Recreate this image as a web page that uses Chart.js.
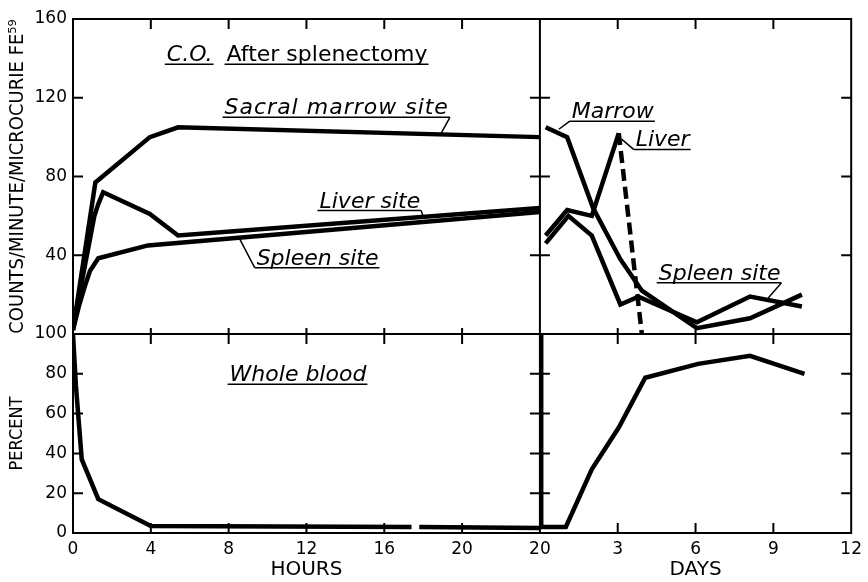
<!DOCTYPE html>
<html>
<head>
<meta charset="utf-8">
<script src="https://cdn.jsdelivr.net/npm/chart.js@4.4.0/dist/chart.umd.min.js"></script>
<style>
    html, body { margin: 0; padding: 0; background: #fff; }
    #wrap { position: relative; width: 868px; height: 582px; }
</style>
</head>
<body>
<div id="wrap"><canvas id="ironChart"></canvas></div>
<script>
// top left: counts over the first hours
const marrowHours = [0, 1.15, 3.95, 5.4, 24];
const marrowCounts = [2, 77, 100, 105, 100];
const liverHours = [0, 1.1, 1.3, 1.55, 3.95, 5.4, 24];
const liverCounts = [3, 60, 66, 72, 61, 50, 64];
const spleenHours = [0, 0.3, 0.6, 0.87, 1.3, 3.85, 24];
const spleenCounts = [2, 14, 24, 32, 38.5, 45, 62];

// top right: counts over days
const marrowDays = [0.22, 1.05, 2.05, 3.1, 3.93, 6.05, 8.1, 10.1];
const marrowCountsD = [105, 100, 64, 38, 22, 3, 8, 20];
const liverDays = [0.22, 1.05, 2.0, 3.04];
const liverCountsD = [50, 63, 60, 102];
const liverDropDays = [3.04, 3.93];
const liverDropCounts = [102, 0];
const spleenDays = [0.22, 1.1, 2.0, 3.1, 3.8, 6.05, 8.1, 10.1];
const spleenCountsD = [46, 60, 50, 15, 19, 6, 19, 14];

// bottom: whole blood percent
const bloodHours = [0, 0.15, 0.45, 1.3, 4, 17.4, 17.55, 17.8, 24];
const bloodPctH = [100, 74, 37, 17, 3.5, 3, null, 3, 2.5];
const bloodDays = [0.05, 0.05, 1.0, 2.0, 3.04, 4.06, 6.1, 8.1, 10.2];
const bloodPctD = [100, 3, 3, 32, 53, 78, 85, 89, 80];

// tick labels
const hourTicks = ["0", "4", "8", "12", "16", "20", ""];
const dayTicks = ["20", "3", "6", "9", "12"];
const countTicks = ["", "40", "80", "120", "160"];
const pctTicks = ["0", "20", "40", "60", "80", "100"];

const FONT = "'DejaVu Sans', 'Liberation Sans', sans-serif";
const NARROW = "'DejaVu Sans Condensed', 'Liberation Sans Narrow', 'Liberation Sans', sans-serif";

function pts(xs, ys) {
    return xs.map((x, i) => ({ x: x, y: ys[i] }));
}

function line(xs, ys, xAxis, yAxis, extra) {
    return Object.assign({
        data: pts(xs, ys),
        xAxisID: xAxis,
        yAxisID: yAxis,
        showLine: true,
        borderColor: "#000",
        borderWidth: 4.5,
        pointRadius: 0,
        fill: false,
        spanGaps: false,
    }, extra || {});
}

// labels drawn inside the plot, placed in data units
const notes = [
    { xs: "xh", ys: "yc", at: [4.82, 138.6], parts: [{ t: "C.O.", it: true, u: true }, { t: "  " }, { t: "After splenectomy", u: true }] },
    { xs: "xh", ys: "yc", at: [7.79, 111.6], spacing: 1, parts: [{ t: "Sacral marrow site", it: true, u: true }], lead: { side: "end", to: [18.9, 101.5] } },
    { xs: "xh", ys: "yc", at: [12.67, 64.2], parts: [{ t: "Liver site", it: true, u: true }], lead: { side: "end", to: [18.0, 59.6] } },
    { xs: "xh", ys: "yc", at: [9.44, 35.2], parts: [{ t: "Spleen site", it: true, u: true }], lead: { side: "start", to: [8.5, 49.6] } },
    { xs: "xd", ys: "yc", at: [1.23, 109.6], parts: [{ t: "Marrow", it: true, u: true }], lead: { side: "start", to: [0.73, 104] } },
    { xs: "xd", ys: "yc", at: [3.69, 95.3], parts: [{ t: "Liver", it: true, u: true }], lead: { side: "start", to: [3.15, 99] } },
    { xs: "xd", ys: "yc", at: [4.58, 27.5], parts: [{ t: "Spleen site", it: true, u: true }], lead: { side: "end", to: [8.8, 18.3] } },
    { xs: "xh", ys: "yp", at: [8.05, 76.3], parts: [{ t: "Whole blood", it: true, u: true }] },
];

const framePlugin = {
    id: "frame",
    beforeDatasetsDraw(chart) {
        const ctx = chart.ctx;
        const a = chart.chartArea;
        const s = chart.scales;
        const midX = s.xd.left;
        const midY = s.yc.bottom;
        const len = 10;
        ctx.save();
        ctx.strokeStyle = "#000";
        ctx.lineWidth = 2;
        ctx.strokeRect(a.left, a.top, a.width, a.height);
        ctx.beginPath();
        ctx.moveTo(midX, a.top); ctx.lineTo(midX, a.bottom);
        ctx.moveTo(a.left, midY); ctx.lineTo(a.right, midY);
        ["xh", "xd"].forEach((id) => {
            const sc = s[id];
            sc.ticks.forEach((t) => {
                if (t.value <= sc.min || t.value >= sc.max) return;
                const x = sc.getPixelForValue(t.value);
                ctx.moveTo(x, a.top); ctx.lineTo(x, a.top + len);
                ctx.moveTo(x, a.bottom); ctx.lineTo(x, a.bottom - len);
                ctx.moveTo(x, midY - 6); ctx.lineTo(x, midY + len);
            });
        });
        ["yc", "yp"].forEach((id) => {
            const sc = s[id];
            sc.ticks.forEach((t) => {
                if (t.value <= sc.min || t.value >= sc.max) return;
                const y = sc.getPixelForValue(t.value);
                ctx.moveTo(a.left, y); ctx.lineTo(a.left + len, y);
                ctx.moveTo(a.right, y); ctx.lineTo(a.right - len, y);
                ctx.moveTo(midX - len, y); ctx.lineTo(midX + len, y);
            });
        });
        ctx.stroke();
        ctx.restore();
    },
    afterDatasetsDraw(chart) {
        const ctx = chart.ctx;
        ctx.save();
        ctx.fillStyle = "#000";
        ctx.strokeStyle = "#000";
        ctx.textBaseline = "alphabetic";
        notes.forEach((n) => {
            const sx = chart.scales[n.xs];
            const sy = chart.scales[n.ys];
            let x = sx.getPixelForValue(n.at[0]);
            const y = sy.getPixelForValue(n.at[1]);
            const x0 = x;
            ctx.letterSpacing = (n.spacing || 0) + "px";
            ctx.lineWidth = 1.5;
            ctx.beginPath();
            n.parts.forEach((p) => {
                ctx.font = (p.it ? "italic " : "") + "22px " + FONT;
                ctx.fillText(p.t, x, y);
                const w = ctx.measureText(p.t).width;
                if (p.u) {
                    ctx.moveTo(x - 2, y + 3);
                    ctx.lineTo(x + w + 1, y + 3);
                }
                x += w;
            });
            if (n.lead) {
                const ux = n.lead.side === "end" ? x + 1 : x0 - 2;
                ctx.moveTo(ux, y + 3);
                ctx.lineTo(sx.getPixelForValue(n.lead.to[0]), sy.getPixelForValue(n.lead.to[1]));
            }
            ctx.stroke();
        });
        ctx.restore();
    },
};

const tickFont = { family: FONT, size: 17 };

var ironChart = new Chart(document.getElementById("ironChart"), {
    type: "scatter",
    data: {
        datasets: [
            line(marrowHours, marrowCounts, "xh", "yc"),
            line(liverHours, liverCounts, "xh", "yc"),
            line(spleenHours, spleenCounts, "xh", "yc"),
            line(marrowDays, marrowCountsD, "xd", "yc"),
            line(liverDays, liverCountsD, "xd", "yc"),
            line(liverDropDays, liverDropCounts, "xd", "yc", { borderDash: [12, 6] }),
            line(spleenDays, spleenCountsD, "xd", "yc"),
            line(bloodHours, bloodPctH, "xh", "yp"),
            line(bloodDays, bloodPctD, "xd", "yp"),
        ],
    },
    options: {
        responsive: true,
        maintainAspectRatio: false,
        animation: false,
        events: [],
        layout: { padding: { left: 0, top: 19, right: 15, bottom: 0 } },
        plugins: { legend: { display: false }, tooltip: { enabled: false } },
        scales: {
            xh: {
                type: "linear", axis: "x", position: "bottom",
                stack: "xs", stackWeight: 468, weight: 0,
                min: 0, max: 24,
                grid: { display: false, drawTicks: false },
                border: { display: false },
                ticks: {
                    stepSize: 4, autoSkip: false, maxRotation: 0, padding: 6,
                    color: "#000", font: tickFont,
                    callback: (v, i) => hourTicks[i],
                },
                title: { display: true, text: "HOURS", color: "#000", font: { family: FONT, size: 20 }, padding: 0 },
                afterFit: (sc) => { sc.height = 49; },
            },
            xd: {
                type: "linear", axis: "x", position: "bottom",
                stack: "xs", stackWeight: 312, weight: 1,
                min: 0, max: 12,
                grid: { display: false, drawTicks: false },
                border: { display: false },
                ticks: {
                    stepSize: 3, autoSkip: false, maxRotation: 0, padding: 6,
                    color: "#000", font: tickFont,
                    callback: (v, i) => dayTicks[i],
                },
                title: { display: true, text: "DAYS", color: "#000", font: { family: FONT, size: 20 }, padding: 0 },
                afterFit: (sc) => { sc.height = 49; },
            },
            yp: {
                type: "linear", axis: "y", position: "left",
                stack: "ys", stackWeight: 199, weight: 0,
                min: 0, max: 100,
                grid: { display: false, drawTicks: false },
                border: { display: false },
                ticks: {
                    stepSize: 20, autoSkip: false, padding: 6,
                    color: "#000", font: tickFont,
                    callback: (v, i) => pctTicks[i],
                },
                title: { display: true, text: "PERCENT", color: "#000", font: { family: NARROW, size: 18 }, padding: { top: 7, bottom: 0 } },
                afterFit: (sc) => { sc.width = 73; },
            },
            yc: {
                type: "linear", axis: "y", position: "left",
                stack: "ys", stackWeight: 315, weight: 1,
                min: 0, max: 160,
                grid: { display: false, drawTicks: false },
                border: { display: false },
                ticks: {
                    stepSize: 40, autoSkip: false, padding: 6,
                    color: "#000", font: tickFont,
                    callback: (v, i) => countTicks[i],
                },
                title: { display: true, text: "COUNTS/MINUTE/MICROCURIE FE\u2075\u2079", color: "#000", font: { family: NARROW, size: 20 }, padding: { top: 6, bottom: 0 } },
                afterFit: (sc) => { sc.width = 73; },
            },
        },
    },
    plugins: [framePlugin],
});
</script>
</body>
</html>
